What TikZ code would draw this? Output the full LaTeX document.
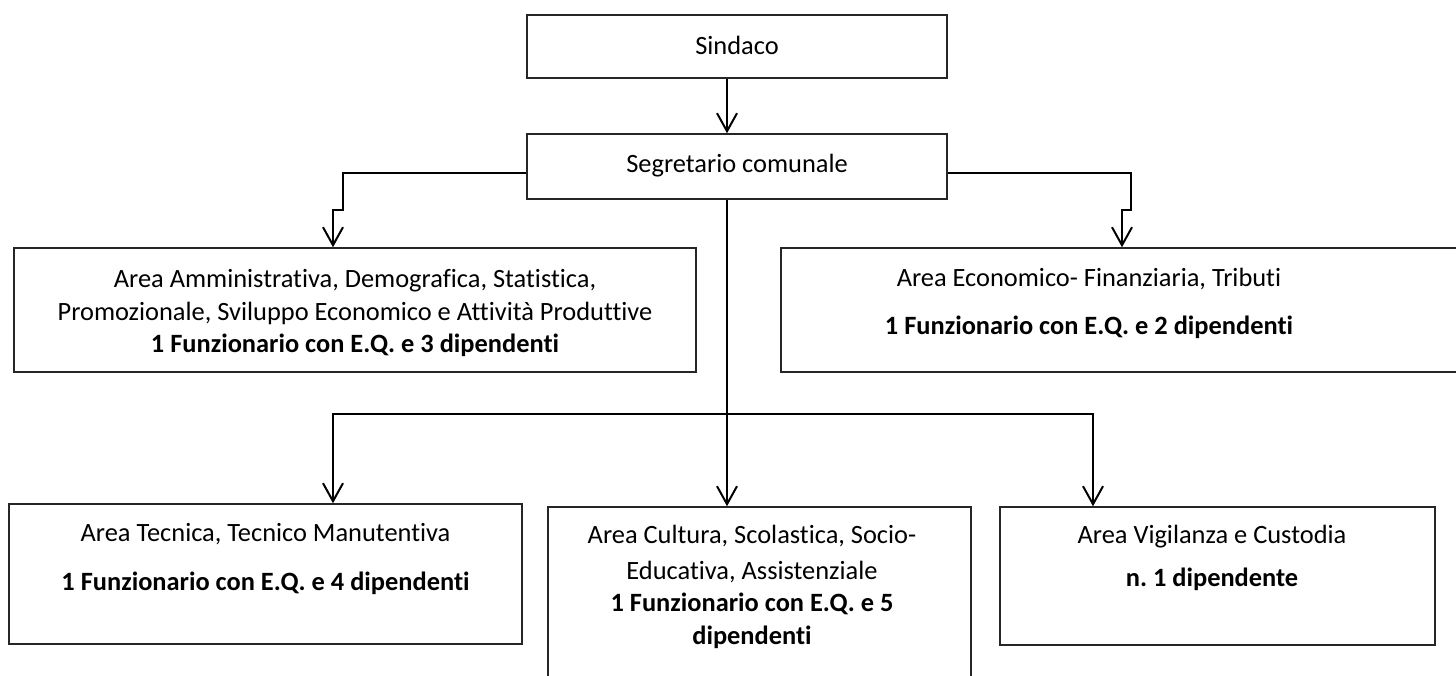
\documentclass[tikz,border=0pt]{standalone}
\usepackage{fontspec}
\setmainfont{Carlito}[Ligatures={NoCommon}]
\usetikzlibrary{arrows.meta,positioning}

\tikzset{
  area/.style={draw=black!85, line width=0.75pt, inner sep=0pt},
  areatext/.style={align=center, inner sep=0pt, font=\fontsize{13.2}{16.25}\selectfont},
  conn/.style={line width=1.2pt, -{Straight Barb[length=9pt,width=10pt,line width=1pt]}}
}

\begin{document}
\frenchspacing
\begin{tikzpicture}[x=0.5pt,y=-0.5pt]
            \clip (0,0) rectangle (1456,675);
            % boxes
            \node[area, minimum width=210pt, minimum height=31.5pt] (sin) at (737,46.5) {};
            \node[area, minimum width=210pt, minimum height=32.5pt] (seg) at (737,166.5) {};
            \node[area, minimum width=341pt, minimum height=62pt] (amm) at (355,310) {};
            \node[area, minimum width=341pt, minimum height=62pt] (eco) at (1122,310) {};
            \node[area, minimum width=256.5pt, minimum height=70pt] (tec) at (265.5,574) {};
            \node[area, minimum width=211.5pt, minimum height=92pt] (cul) at (759.5,599) {};
            \node[area, minimum width=217.5pt, minimum height=69pt] (vig) at (1217.5,576) {};
            % texts
            \node[areatext] (sintx) at (737,45) {Sindaco};
            \node[areatext] (segtx) at (737,166) {Segretario comunale};
            \node[areatext] (ammtx) at (355,313) {Area Amministrativa, Demografica, Statistica,\\
              Promozionale, Sviluppo Economico e Attività Produttive\\
              \textbf{1 Funzionario con E.Q. e 3 dipendenti}};
            \node[areatext] (ecotx) at (1089,303) {Area Economico- Finanziaria, Tributi\\[7.75pt]
              \textbf{1 Funzionario con E.Q. e 2 dipendenti}};
            \node[areatext] (tectx) at (265.5,559) {Area Tecnica, Tecnico Manutentiva\\[8.25pt]
              \textbf{1 Funzionario con E.Q. e 4 dipendenti}};
            \node[areatext] (cultx) at (752,587) {Area Cultura, Scolastica, Socio-\\[1.5pt]
              Educativa, Assistenziale\\
              \textbf{1 Funzionario con E.Q. e 5}\\
              \textbf{dipendenti}};
            \node[areatext] (vigtx) at (1212,558) {Area Vigilanza e Custodia\\[5.25pt]
              \textbf{n. 1 dipendente}};
            % connectors
            \coordinate (jl) at (343,210);
            \coordinate (jr) at (1131,210);
            \coordinate (jb) at (727,414);
            \draw[conn] ([xshift=-5pt]sin.south) -- ([xshift=-5pt]seg.north);
            \draw[conn] ([yshift=-3.25pt]seg.west) -| (jl) -| ([xshift=-11pt]amm.north);
            \draw[conn] ([yshift=-3.25pt]seg.east) -| (jr) -| (eco.north);
            \draw[conn] ([xshift=-5pt]seg.south) -- ([xshift=-16.25pt]cul.north);
            \draw[conn] (jb) -| ([xshift=33.75pt]tec.north);
            \draw[conn] (jb) -| ([xshift=-62.25pt]vig.north);
        \end{tikzpicture}
\end{document}
